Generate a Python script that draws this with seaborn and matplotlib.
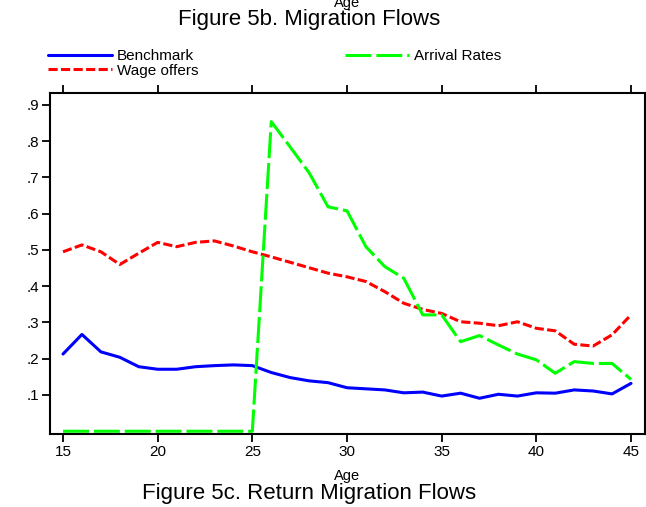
import numpy as np
import pandas as pd
import matplotlib
matplotlib.use("Agg")
import matplotlib.pyplot as plt
import seaborn as sns

ages = list(range(15, 46))
benchmark = [0.213, 0.267, 0.219, 0.204, 0.178, 0.171, 0.171, 0.178, 0.181, 0.183,
             0.181, 0.162, 0.148, 0.139, 0.134, 0.120, 0.117, 0.114, 0.106, 0.108,
             0.097, 0.105, 0.091, 0.102, 0.097, 0.106, 0.105, 0.114, 0.111, 0.103,
             0.132]
wage_offers = [0.495, 0.514, 0.495, 0.460, 0.491, 0.521, 0.509, 0.521, 0.525, 0.511,
               0.495, 0.481, 0.466, 0.451, 0.436, 0.426, 0.413, 0.385, 0.353, 0.336,
               0.325, 0.302, 0.298, 0.291, 0.302, 0.284, 0.277, 0.240, 0.235, 0.266,
               0.321]
arrival_rates = [0.0, 0.0, 0.0, 0.0, 0.0, 0.0, 0.0, 0.0, 0.0, 0.0,
                 0.0, 0.854, 0.784, 0.713, 0.619, 0.608, 0.509, 0.454, 0.422, 0.321,
                 0.321, 0.247, 0.264, 0.238, 0.213, 0.197, 0.160, 0.192, 0.187, 0.187,
                 0.143]
xticks = [15, 20, 25, 30, 35, 40, 45]
yticks = [0.1, 0.2, 0.3, 0.4, 0.5, 0.6, 0.7, 0.8, 0.9]
ytick_labels = [".1", ".2", ".3", ".4", ".5", ".6", ".7", ".8", ".9"]

df = pd.DataFrame({"Age": ages, "Benchmark": benchmark,
                   "Wage offers": wage_offers, "Arrival Rates": arrival_rates})

sns.set_theme(style="white")
plt.rcParams["font.family"] = ["Liberation Sans", "DejaVu Sans"]
plt.rcParams["text.color"] = "black"
plt.rcParams["xtick.color"] = "black"
plt.rcParams["ytick.color"] = "black"
plt.rcParams["lines.solid_joinstyle"] = "round"
plt.rcParams["lines.dash_joinstyle"] = "round"

W, H = 646, 507
fig = plt.figure(figsize=(W / 100, H / 100), dpi=100)
ax = fig.add_axes([50 / W, (H - 434) / H, (645 - 50) / W, (434 - 93) / H])

lw = 2.2
sns.lineplot(data=df, x="Age", y="Benchmark", ax=ax, color="#0000ff", lw=lw,
             label="Benchmark")
sns.lineplot(data=df, x="Age", y="Wage offers", ax=ax, color="#ff0000", lw=lw,
             label="Wage offers")
ax.lines[-1].set_dashes((3.0, 1.1))
sns.lineplot(data=df, x="Age", y="Arrival Rates", ax=ax, color="#00ff00", lw=lw,
             label="Arrival Rates")
ax.lines[-1].set_dashes((8.5, 1.6))

ax.set_xlim(14.313, 45.74)
ax.set_ylim(-0.0076, 0.933)
ax.set_xticks(xticks)
ax.set_xticklabels([str(t) for t in xticks])
ax.set_yticks(yticks)
ax.set_yticklabels(ytick_labels)
ax.set_xlabel("")
ax.set_ylabel("")
for s in ax.spines.values():
    s.set_visible(True)
    s.set_color("black")
    s.set_linewidth(1.5)
ax.tick_params(axis="both", which="major", direction="out", length=6, width=1.3,
               color="black", labelsize=11, labelcolor="black",
               top=True, right=True, bottom=True, left=True,
               labeltop=False, labelright=False)
ax.tick_params(axis="x", pad=2)
ax.tick_params(axis="y", pad=2)

ax.get_legend().remove()
handles, labels = ax.get_legend_handles_labels()
fig.legend(handles, labels, ncol=2, loc="upper left",
           bbox_to_anchor=(48 / W, 1 - 49 / H), frameon=False,
           fontsize=11, handlelength=4.2, handletextpad=0.3,
           columnspacing=9.6, labelspacing=0.05, borderpad=0, borderaxespad=0,
           labelcolor="black")

fig.text(347.5 / W, 1 - 3 / H, "Age", ha="center", va="center", fontsize=10.5,
         color="black")
fig.text(309 / W, 1 - 20 / H, "Figure 5b. Migration Flows", ha="center",
         va="center", fontsize=16, color="black")
fig.text(347.5 / W, 1 - 476 / H, "Age", ha="center", va="center", fontsize=10.5,
         color="black")
fig.text(309 / W, 1 - 494 / H, "Figure 5c. Return Migration Flows", ha="center",
         va="center", fontsize=16, color="black")

fig.savefig("out.png", dpi=100, facecolor="white")
